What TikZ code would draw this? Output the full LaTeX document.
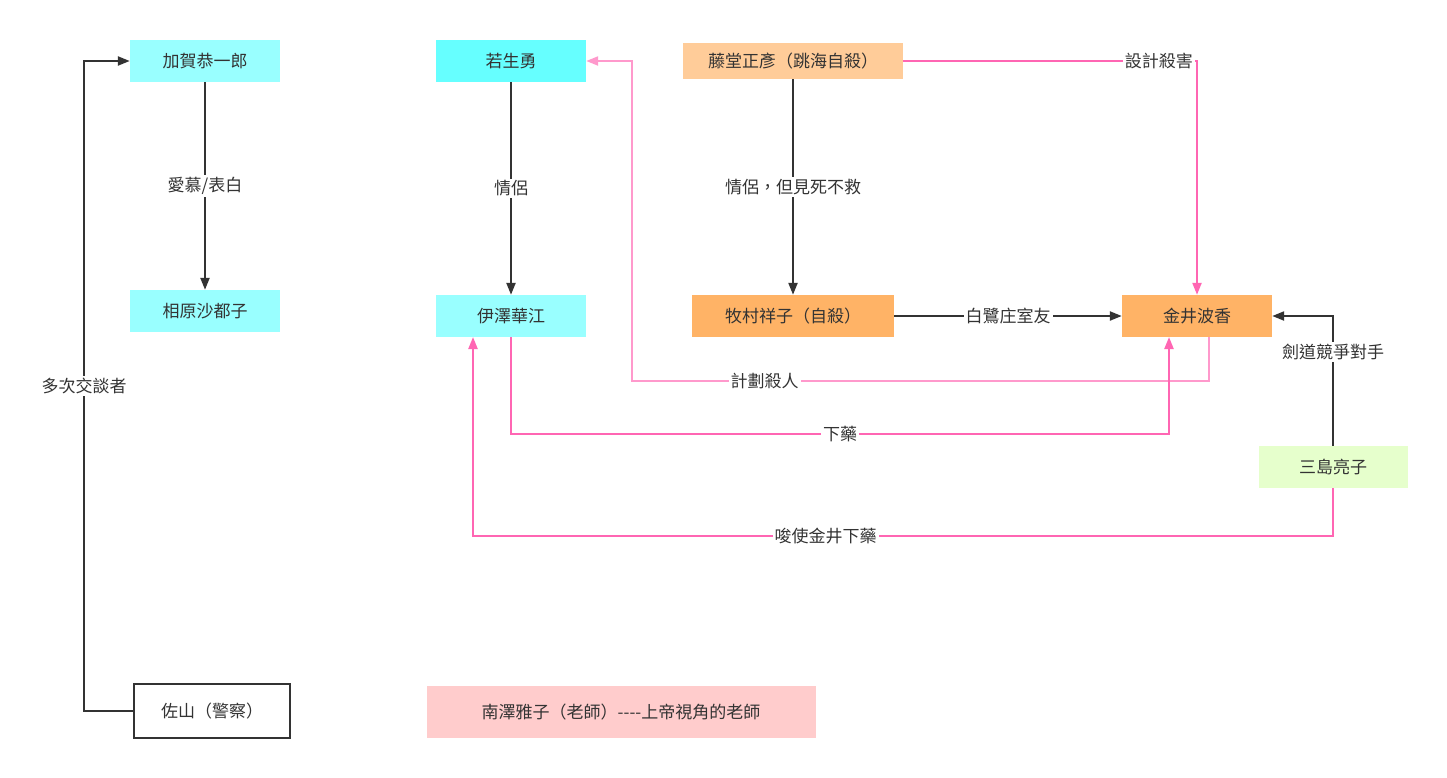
\documentclass[tikz,border=0pt]{standalone}
\usepackage{fontspec}
\newfontfamily\cjk{Noto Sans CJK TC}
\usetikzlibrary{arrows.meta}
\definecolor{dk}{HTML}{333333}
\definecolor{pk}{HTML}{FF66B3}
\definecolor{lpk}{HTML}{FF99CC}
\definecolor{cy1}{HTML}{99FFFF}
\definecolor{cy2}{HTML}{66FFFF}
\begin{document}
\begin{tikzpicture}[x=1pt,y=-1pt,
  box/.style={minimum width=150pt,minimum height=42pt,inner sep=0pt,font=\cjk\fontsize{17}{17}\selectfont,text=dk},
  lab/.style={fill=white,inner sep=2pt,font=\cjk\fontsize{17}{17}\selectfont,text=dk},
  dkl/.style={draw=dk,line width=2.2pt,-{Triangle[length=12pt,width=9pt]}},
  pkl/.style={draw=pk,line width=2.2pt,-{Triangle[length=12pt,width=9pt]}},
  lpkl/.style={draw=lpk,line width=2.2pt,-{Triangle[length=12pt,width=9pt]}}]
\useasboundingbox (0,0) rectangle (1447,777);
\node[box,fill=cy1] (jia) at (205,61) {加賀恭一郎};
\node[box,fill=cy1] (xiang) at (205,311) {相原沙都子};
\node[box,draw=dk,line width=2pt,minimum width=156pt,minimum height=54pt] (zuo) at (212,711) {佐山（警察）};
\node[box,fill=cy2] (ruo) at (511,61) {若生勇};
\node[box,fill=cy1] (yi) at (511,316) {伊澤華江};
\node[box,fill={rgb,255:red,255;green,204;blue,153},minimum width=220pt,minimum height=36pt] (teng) at (793,61) {藤堂正彥（跳海自殺）};
\node[box,fill={rgb,255:red,255;green,179;blue,102},minimum width=202pt] (mu) at (793,316) {牧村祥子（自殺）};
\node[box,fill={rgb,255:red,255;green,179;blue,102}] (jin) at (1197,316) {金井波香};
\node[box,fill={rgb,255:red,230;green,255;blue,204},minimum width=149pt] (san) at (1333,467) {三島亮子};
\node[box,fill={rgb,255:red,255;green,204;blue,204},minimum width=389pt,minimum height=52pt] (nan) at (621,712) {南澤雅子（老師）----上帝視角的老師};
\draw[dkl] (jia) -- node[lab]{愛慕/表白} (xiang);
\draw[dkl] (zuo.west) -- (84,711) -- node[lab,pos=0.5]{多次交談者} (84,61) -- (jia.west);
\draw[dkl] (ruo) -- node[lab]{情侶} (yi);
\draw[dkl] (teng) -- node[lab]{情侶，但見死不救} (mu);
\draw[dkl] (mu) -- node[lab]{白鷺庄室友} (jin);
\draw[pkl] (teng.east) -- node[lab,pos=0.87]{設計殺害} (1197,61) -- (jin.north);
\draw[lpkl] (1209,337) -- (1209,381) -- node[lab,pos=0.77]{計劃殺人} (632,381) -- (632,61) -- (ruo.east);
\draw[pkl] (yi.south) -- (511,434) -- node[lab,pos=0.5]{下藥} (1169,434) -- (1169,337);
\draw[dkl] (san.north) -- node[lab,pos=0.72]{劍道競爭對手} (1333,316) -- (jin.east);
\draw[pkl] (san.south) -- (1333,536) -- node[lab,pos=0.59]{唆使金井下藥} (473,536) -- (473,337);
\end{tikzpicture}
\end{document}
